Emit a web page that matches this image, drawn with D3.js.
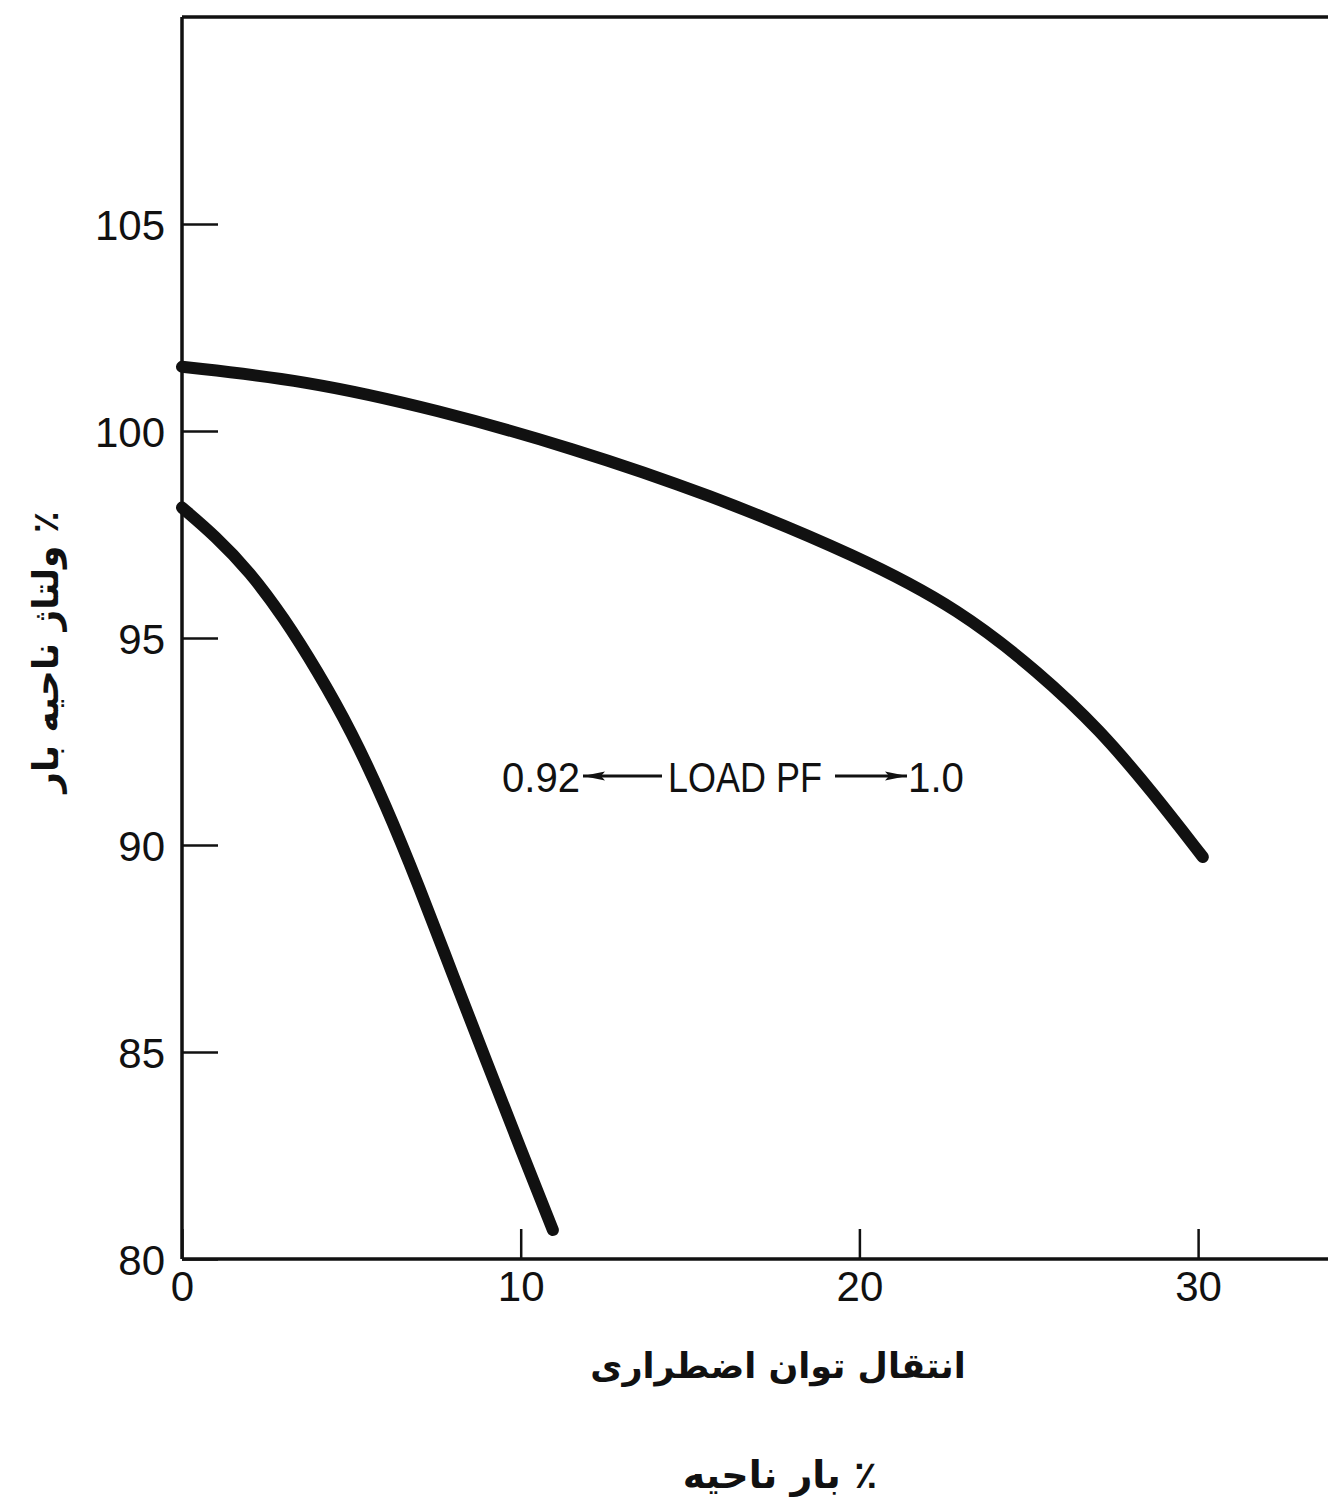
<!DOCTYPE html>
<html>
<head>
<meta charset="utf-8">
<script src="https://cdn.jsdelivr.net/npm/d3@7"></script>
<style>
  html, body { margin: 0; padding: 0; background: #fff; }
  svg { display: block; }
  .num { font-family: "Liberation Sans", Arial, sans-serif; fill: #111; }
  .fa { font-family: "DejaVu Sans", "Noto Sans", sans-serif; font-weight: bold; fill: #111; }
</style>
</head>
<body>
<script>
// ---- data ----
const xTicks = [0, 10, 20, 30];
const yTicks = [80, 85, 90, 95, 100, 105];

// Load PF = 1.0 (upper curve)
const pf10X = [0, 3.6, 7.56, 11.51, 15.47, 20.02, 22.97, 25.33, 27.10, 28.67, 30.14];
const pf10Y = [101.55, 101.23, 100.51, 99.59, 98.50, 96.96, 95.68, 94.15, 92.78, 91.26, 89.71];

// Load PF = 0.92 (lower curve)
const pf092X = [0, 1, 2, 3, 4, 5, 6, 7, 8, 9, 10, 10.95];
const pf092Y = [98.15, 97.45, 96.6, 95.5, 94.2, 92.75, 91.0, 89.0, 86.85, 84.75, 82.65, 80.7];

const yTitle = "٪ ولتاژ ناحیه بار";
const xTitle1 = "انتقال توان اضطراری";
const xTitle2 = "٪ بار ناحیه";
const noteLeft = "0.92";
const noteMid = "LOAD PF";
const noteRight = "1.0";

// ---- layout ----
const W = 1328, H = 1511;
const svg = d3.select("body").append("svg").attr("width", W).attr("height", H);

const x = d3.scaleLinear().domain([0, 36]).range([182, 182 + 36 * 33.87]);
const y = d3.scaleLinear().domain([80, 110]).range([1259, 17]);

// arrow marker
svg.append("defs").append("marker").attr("id", "ah").attr("viewBox", "0 0 22 10")
  .attr("refX", 22).attr("refY", 5).attr("markerWidth", 22).attr("markerHeight", 10)
  .attr("markerUnits", "userSpaceOnUse").attr("orient", "auto")
  .append("path").attr("d", "M0,0.5 L22,5 L0,9.5 L4,5 Z").attr("fill", "#111");

// frame: top border and (off-page) right border
svg.append("path")
  .attr("d", `M${x(0)},${y(110)} H${x(36)} V${y(80)}`)
  .attr("fill", "none").attr("stroke", "#111").attr("stroke-width", 3.5);

// axes
const yAxis = d3.axisLeft(y).tickValues(yTicks).tickSize(-36).tickSizeOuter(0).tickPadding(17);
const gy = svg.append("g").attr("transform", `translate(${x(0)},0)`).call(yAxis);
const xAxis = d3.axisBottom(x).tickValues(xTicks).tickSize(-30).tickSizeOuter(0).tickPadding(12);
const gx = svg.append("g").attr("transform", `translate(0,${y(80)})`).call(xAxis);

[gx, gy].forEach(g => {
  g.select(".domain").attr("stroke", "#111").attr("stroke-width", 3.5);
  g.selectAll(".tick line").attr("stroke", "#111").attr("stroke-width", 2.5);
  g.selectAll(".tick text").attr("class", "num").attr("font-size", 42).attr("fill", "#111");
});
gy.select(".domain").attr("d", `M0,${y(110)}V${y(80)}`);
gx.select(".domain").attr("d", `M${x(0)},0H${x(36)}`);
gy.selectAll(".tick text").attr("dy", "0.36em");

// curves
const line = d3.line().x(d => x(d[0])).y(d => y(d[1])).curve(d3.curveBasis);
const s1 = pf10X.map((v, i) => [v, pf10Y[i]]);
const s2 = pf092X.map((v, i) => [v, pf092Y[i]]);
[s1, s2].forEach(s => {
  svg.append("path").datum(s).attr("d", line)
    .attr("fill", "none").attr("stroke", "#111").attr("stroke-width", 12)
    .attr("stroke-linecap", "round").attr("stroke-linejoin", "round");
});

// annotation
const ay = 792;
svg.append("text").attr("class", "num").attr("font-size", 42)
  .attr("x", 502).attr("y", ay).attr("textLength", 78).attr("lengthAdjust", "spacingAndGlyphs").text(noteLeft);
svg.append("line").attr("x1", 662).attr("y1", ay - 16).attr("x2", 583).attr("y2", ay - 16)
  .attr("stroke", "#111").attr("stroke-width", 3).attr("marker-end", "url(#ah)");
svg.append("text").attr("class", "num").attr("font-size", 42)
  .attr("x", 668).attr("y", ay).attr("textLength", 154).attr("lengthAdjust", "spacingAndGlyphs").text(noteMid);
svg.append("line").attr("x1", 835).attr("y1", ay - 16).attr("x2", 907).attr("y2", ay - 16)
  .attr("stroke", "#111").attr("stroke-width", 3).attr("marker-end", "url(#ah)");
svg.append("text").attr("class", "num").attr("font-size", 42)
  .attr("x", 908).attr("y", ay).attr("textLength", 56).attr("lengthAdjust", "spacingAndGlyphs").text(noteRight);

// titles
svg.append("text").attr("class", "fa").attr("font-size", 36)
  .attr("direction", "rtl").attr("text-anchor", "middle")
  .attr("transform", "translate(58,652) rotate(-90)").text(yTitle);
svg.append("text").attr("class", "fa").attr("font-size", 35)
  .attr("direction", "rtl").attr("text-anchor", "middle")
  .attr("x", 778).attr("y", 1378).text(xTitle1);
svg.append("text").attr("class", "fa").attr("font-size", 38)
  .attr("direction", "rtl").attr("text-anchor", "middle")
  .attr("x", 780).attr("y", 1488).text(xTitle2);
</script>
</body>
</html>
